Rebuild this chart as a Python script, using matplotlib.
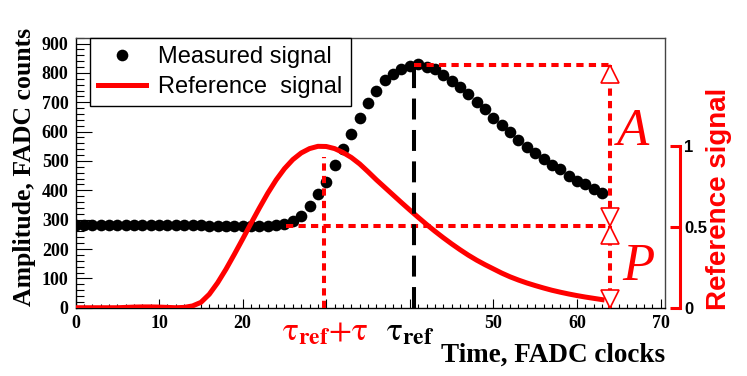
import numpy as np
import matplotlib
matplotlib.use("Agg")
import matplotlib.pyplot as plt
from matplotlib.transforms import offset_copy, blended_transform_factory

# measured signal, one sample per FADC clock
time_clocks = list(range(64))
measured = [282, 283, 281, 281, 281, 281, 281, 282, 281, 281,
            281, 282, 282, 282, 282, 281, 278, 278, 278, 277,
            278, 278, 279, 280, 281, 284, 297, 314, 348, 386,
            429, 486, 541, 591, 648, 699, 740, 776, 797, 813,
            825, 830, 821, 812, 793, 773, 753, 728, 702, 676,
            645, 623, 599, 572, 549, 526, 507, 486, 474, 450,
            433, 421, 404, 392]

# reference signal (normalised, right axis)
reference = [0.0, 0.0, 0.0, 0.0, 0.0, 0.0, 0.002, 0.004, 0.005, 0.005,
             0.004, 0.002, 0.0, 0.002, 0.011, 0.033, 0.083, 0.154, 0.238, 0.330,
             0.425, 0.522, 0.617, 0.708, 0.790, 0.860, 0.916, 0.957, 0.984, 0.998,
             0.997, 0.984, 0.960, 0.929, 0.889, 0.841, 0.791, 0.744, 0.697, 0.650,
             0.604, 0.559, 0.515, 0.473, 0.433, 0.395, 0.359, 0.325, 0.294, 0.266,
             0.240, 0.214, 0.191, 0.171, 0.153, 0.137, 0.122, 0.108, 0.096, 0.085,
             0.075, 0.066, 0.058, 0.050]

ref_full = 551      # amplitude that corresponds to 1 on the reference axis
pedestal = 278      # P
peak_level = 827    # P + A
tau_ref = 40.5
tau_ref_plus_tau = 29.7
x_arrow = 64
ped_start = 25.2
ref_line_top = 515

plt.rcParams['mathtext.fontset'] = 'stix'
serif_b = dict(family='Liberation Serif', weight='bold')

fig = plt.figure(figsize=(7.47, 3.76), dpi=100)
ax = fig.add_axes([0.1011, 0.1816, 0.7888, 0.7181])

ax.plot(time_clocks, measured, 'o', color='black', ms=8.4, mew=0, zorder=2,
        label='Measured signal')
ax.plot(time_clocks, np.array(reference) * ref_full, color='red', lw=3.6,
        solid_joinstyle='round', zorder=3, label='Reference  signal')

dot = dict(color='red', lw=2.9, linestyle=(0, (1.8, 1.3)), zorder=4)
ax.plot([ped_start, x_arrow], [pedestal, pedestal], **dot)
ax.plot([tau_ref, x_arrow], [peak_level, peak_level], **dot)
ax.plot([tau_ref_plus_tau, tau_ref_plus_tau], [0, ref_line_top], **dot)
ax.plot([x_arrow, x_arrow], [0, peak_level], **dot)
ax.plot([tau_ref, tau_ref], [0, peak_level], color='black', lw=2.9,
        linestyle=(0, (5.2, 2.6)), zorder=4)

# open arrow heads on the A and P arrows
ms = 13
tri = dict(ms=ms, mfc='white', mec='red', mew=1.2, zorder=6, ls='none')
down = offset_copy(ax.transData, fig=fig, y=-ms / 2, units='points')
up = offset_copy(ax.transData, fig=fig, y=ms / 2, units='points')
ax.plot([x_arrow, x_arrow], [peak_level, pedestal], marker='^', transform=down, **tri)
ax.plot([x_arrow, x_arrow], [pedestal, 0], marker='v', transform=up, **tri)

ax.text(66.7, 555, 'A', color='red', family='Liberation Serif', style='italic',
        fontsize=38, ha='center', va='baseline')
ax.text(67.3, 94, 'P', color='red', family='Liberation Serif', style='italic',
        fontsize=38, ha='center', va='baseline')

ax.set_xlim(0, 70.5)
ax.set_ylim(0, 920)
ax.set_xticks(range(0, 71, 10))
ax.set_xticklabels(['0', '10', '20', '', '', '50', '60', '70'], **serif_b, fontsize=13)
ax.set_xticks(range(0, 71), minor=True)
ax.set_yticks(range(0, 901, 100))
ax.set_yticklabels([str(v) for v in range(0, 901, 100)], **serif_b, fontsize=13)
ax.set_yticks(range(0, 921, 20), minor=True)
ax.tick_params(which='both', direction='in', top=False, right=False, color='black')
ax.tick_params(axis='y', which='major', length=11.5, width=0.8, pad=5)
ax.tick_params(axis='y', which='minor', length=5.8, width=0.8)
ax.tick_params(axis='x', which='major', length=6.5, width=0.8, pad=5)
ax.tick_params(axis='x', which='minor', length=3, width=0.8)
for s in ['top', 'right']:
    ax.spines[s].set_color('#444444')
for s in ax.spines.values():
    s.set_linewidth(1)

trans = blended_transform_factory(ax.transData, ax.transAxes)
ax.text(tau_ref_plus_tau + 0.2, -0.025, r'$\mathrm{\tau}_{\mathbf{ref}}\mathrm{+\tau}$',
        color='red', fontsize=24, ha='center', va='top', transform=trans)
ax.text(tau_ref - 0.5, -0.025, r'$\mathrm{\tau}_{\mathbf{ref}}$',
        color='black', fontsize=24, ha='center', va='top', transform=trans)

leg = ax.legend(loc='upper left', bbox_to_anchor=(0.0246, 1.0), borderaxespad=0,
                fancybox=False, edgecolor='black', framealpha=1,
                prop=dict(family='Liberation Sans', size=17),
                handlelength=2.0, handletextpad=0.55, borderpad=0.35,
                labelspacing=0.33)
leg.get_frame().set_linewidth(1)

# reference signal axis
ax2 = ax.twinx()
ax2.set_ylim(0, 920 / ref_full)
for s in ['top', 'left', 'bottom']:
    ax2.spines[s].set_visible(False)
ax2.spines['right'].set_position(('outward', 11))
ax2.spines['right'].set_bounds(0, 1)
ax2.spines['right'].set_color('red')
ax2.spines['right'].set_linewidth(2.2)
ax2.set_yticks([0, 0.5, 1])
ax2.set_yticklabels(['0', '0.5', '1'], family='Liberation Sans', weight='bold', fontsize=12)
ax2.tick_params(axis='y', direction='in', length=7, width=2.2, color='red',
                labelcolor='black', pad=3)

fig.text(0.9625, 0.47, 'Reference signal', color='red', family='Liberation Sans',
         weight='bold', fontsize=20, rotation=90, ha='center', va='center')
fig.text(0.033, 0.556, 'Amplitude, FADC counts', **serif_b, fontsize=18.5,
         rotation=90, ha='center', va='center')
fig.text(0.89, 0.056, 'Time, FADC clocks', **serif_b, fontsize=19.5,
         ha='right', va='center')

fig.savefig('out.png', dpi=100)
